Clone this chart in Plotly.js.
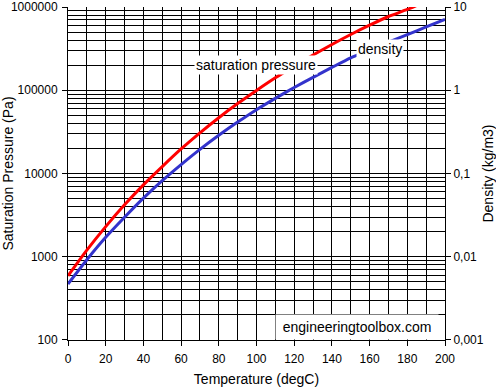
<!DOCTYPE html>
<html>
<head>
<meta charset="utf-8">
<script src="https://cdn.plot.ly/plotly-3.0.1.min.js"></script>
<style>
html,body{margin:0;padding:0;background:#fff;}
#chart{width:496px;height:387px;}
</style>
</head>
<body>
<div id="chart"></div>
<script>
// Temperature (degC)
var temperature = [0,10,20,30,40,50,60,70,80,90,100,110,120,130,140,150,160,170,180,190,200];
// Saturation pressure (Pa)
var saturationPressure = [590,1200,2300,4200,7300,12100,19700,30800,46800,69200,99500,141000,195000,265000,355000,468000,605000,770000,935000,1170000,1450000];
// Density (kg/m3)
var density = [0.0047,0.0092,0.0171,0.0298,0.0505,0.082,0.128,0.195,0.288,0.415,0.585,0.80,1.08,1.43,1.88,2.45,3.05,3.78,4.66,5.77,7.1];

var pressureTickVals = [100,1000,10000,100000,1000000];
var pressureTickText = ["100","1000","10000","100000","1000000"];
var densityTickVals = [0.001,0.01,0.1,1,10];
var densityTickText = ["0,001","0,01","0,1","1","10"];
var xTickVals = [0,20,40,60,80,100,120,140,160,180,200];

function minorLogVals(lo, hi){
  var v=[];
  for(var e=lo;e<hi;e++){for(var k=2;k<=9;k++){v.push(k*Math.pow(10,e));}}
  return v;
}

var font = 'Liberation Sans, Arial, sans-serif';
var eps = 0.0005;

var traces = [
  {x: temperature, y: saturationPressure, type:'scatter', mode:'lines', name:'saturation pressure',
   line:{color:'#FF0000', width:3, shape:'spline', smoothing:0.6}, yaxis:'y', showlegend:false},
  {x: temperature, y: density, type:'scatter', mode:'lines', name:'density',
   line:{color:'#3333CC', width:3, shape:'spline', smoothing:0.6}, yaxis:'y2', showlegend:false}
];

var layout = {
  width:496, height:387,
  margin:{l:68, r:51, t:7, b:47, pad:0},
  paper_bgcolor:'#fff', plot_bgcolor:'#fff',
  font:{family:font, size:12, color:'#000'},
  showlegend:false,
  xaxis:{
    range:[0,200], tickvals:xTickVals, ticks:'outside', ticklen:5, tickcolor:'#000',
    showline:true, linecolor:'#000', linewidth:1,
    showgrid:true, gridcolor:'#000', gridwidth:1, zeroline:false,
    minor:{dtick:10, tick0:0, showgrid:true, gridcolor:'#000', gridwidth:1, ticks:''},
    tickfont:{family:font, size:12, color:'#000'}, ticklabelstandoff:3,
    title:{text:'Temperature (degC)', font:{family:font, size:14, color:'#000'}, standoff:13}
  },
  yaxis:{
    type:'log', range:[2-eps,6+eps], tickvals:pressureTickVals, ticktext:pressureTickText,
    ticks:'outside', ticklen:5, tickcolor:'#000',
    showline:true, linecolor:'#000', linewidth:1,
    showgrid:true, gridcolor:'#000', gridwidth:1, zeroline:false,
    minor:{tickvals:minorLogVals(2,6), showgrid:true, gridcolor:'#000', gridwidth:1, ticks:''},
    tickfont:{family:font, size:12, color:'#000'}, ticklabeloverflow:'allow', ticklabelstandoff:2,
    title:{text:'Saturation Pressure (Pa)', font:{family:font, size:14, color:'#000'}, standoff:20}
  },
  yaxis2:{
    type:'log', range:[-3-eps,1+eps], overlaying:'y', side:'right',
    tickvals:densityTickVals, ticktext:densityTickText,
    ticks:'outside', ticklen:5, tickcolor:'#000',
    showline:true, linecolor:'#000', linewidth:1,
    showgrid:false, zeroline:false,
    tickfont:{family:font, size:12, color:'#000'}, ticklabeloverflow:'allow',
    title:{text:'Density (kg/m3)', font:{family:font, size:14, color:'#000'}, standoff:20}
  },
  annotations:[
    {xref:'x', yref:'y', x:99.7, y:5.307, text:'saturation pressure', showarrow:false,
     bgcolor:'#fff', borderpad:1, font:{family:font, size:14, color:'#000'}},
    {xref:'x', yref:'y', x:165.5, y:5.5, text:'density', showarrow:false,
     bgcolor:'#fff', borderpad:1, font:{family:font, size:14, color:'#000'}},
    {xref:'x', yref:'y', x:153.3, y:2.155, text:'engineeringtoolbox.com', showarrow:false,
     bgcolor:'#fff', borderpad:1, width:160, height:22, font:{family:font, size:14, color:'#000'}}
  ]
};

Plotly.newPlot('chart', traces, layout, {displayModeBar:false, staticPlot:true});
</script>
</body>
</html>
